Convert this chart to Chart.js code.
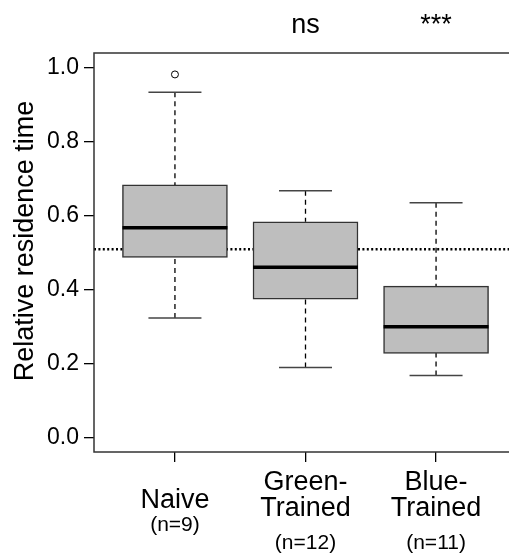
<!DOCTYPE html>
<html><head><meta charset="utf-8">
<script src="https://cdn.jsdelivr.net/npm/chart.js@4/dist/chart.umd.min.js"></script>
<style>
html,body{margin:0;padding:0;background:#fff;overflow:hidden}
#wrap{width:525px;height:557px}
</style></head>
<body>
<div id="wrap"><canvas id="c" width="525" height="557"></canvas></div>
<script>
// box stats
const groups = [1,2,3]
const nameLines = [['Naive'],['Green-','Trained'],['Blue-','Trained']]
const nLabels = ['(n=9)','(n=12)','(n=11)']
const sigLabels = ['','ns','***']
const lowerWhisker = [0.323,0.189,0.167]
const q1 = [0.487,0.374,0.227]
const median = [0.567,0.460,0.299]
const q3 = [0.683,0.583,0.409]
const upperWhisker = [0.934,0.667,0.635]
const outlierGroup = [1]
const outlierValue = [0.982]
const refLine = 0.509
const yTicks = [0,0.2,0.4,0.6,0.8,1.0]
const yTitle = 'Relative residence time'
const xMin = 0.38, xMax = 3.62
const yMin = -0.04, yMax = 1.04

const FONT = '"Liberation Sans", Arial, Helvetica, sans-serif'

const 箱 = groups.map((g,i)=>({x:g,y:[q1[i],q3[i]]}))
const 中位 = groups.map((g,i)=>({x:g,y:median[i]}))
const 须 = []
groups.forEach((g,i)=>{
  须.push({x:g,y:upperWhisker[i]},{x:g,y:q3[i]},{x:g,y:null})
  须.push({x:g,y:lowerWhisker[i]},{x:g,y:q1[i]},{x:g,y:null})
})
const 帽 = []
groups.forEach((g,i)=>{ 帽.push({x:g,y:upperWhisker[i]},{x:g,y:lowerWhisker[i]}) })
const 离群 = outlierGroup.map((g,i)=>({x:g,y:outlierValue[i]}))

const decor = {
  id:'decor',
  afterDraw(chart){
    const {ctx, chartArea:a, scales:{x}} = chart
    ctx.save()
    ctx.strokeStyle = '#333'
    ctx.lineWidth = 1.5
    ctx.strokeRect(a.left, a.top, a.right-a.left, a.bottom-a.top)
    ctx.fillStyle = '#000'
    ctx.textAlign = 'center'
    ctx.textBaseline = 'alphabetic'
    groups.forEach((g,i)=>{
      const px = x.getPixelForValue(g)
      const lines = nameLines[i]
      ctx.font = '27px ' + FONT
      if(lines.length===1){
        ctx.fillText(lines[0], px, a.bottom+56)
      }else{
        ctx.fillText(lines[0], px, a.bottom+38)
        ctx.fillText(lines[1], px, a.bottom+64)
      }
      ctx.font = '21px ' + FONT
      ctx.fillText(nLabels[i], px, a.bottom + (lines.length===1 ? 79 : 97))
      ctx.font = '27px ' + FONT
      if(sigLabels[i]) ctx.fillText(sigLabels[i], px, 33)
    })
    ctx.translate(33, 241)
    ctx.rotate(-Math.PI/2)
    ctx.font = '27px ' + FONT
    ctx.fillText(yTitle, 0, 0)
    ctx.restore()
  }
}

new Chart(document.getElementById('c'), {
  type:'bar',
  data:{datasets:[
    {type:'line', data:[{x:xMin,y:refLine},{x:xMax,y:refLine}], borderColor:'#000', borderWidth:2.5, borderDash:[2,2.4], pointRadius:0, order:10},
    {type:'bar', data:箱, backgroundColor:'#bebebe', borderColor:'#333', borderWidth:1.5, borderSkipped:false, barThickness:105, grouped:false, order:5},
    {type:'line', data:须, borderColor:'#000', borderWidth:1.3, borderDash:[5,4], pointRadius:0, spanGaps:false, order:4},
    {type:'scatter', data:帽, pointStyle:'line', pointRadius:26.5, borderColor:'#444', borderWidth:1.5, order:2},
    {type:'scatter', data:中位, pointStyle:'line', pointRadius:52.5, borderColor:'#000', borderWidth:3.5, order:1},
    {type:'scatter', data:离群, pointStyle:'circle', pointRadius:3.5, borderColor:'#000', borderWidth:1, backgroundColor:'rgba(0,0,0,0)', order:2}
  ]},
  options:{
    responsive:false, animation:false, events:[],
    layout:{autoPadding:false, padding:{top:53, right:8, left:0, bottom:0}},
    plugins:{legend:{display:false}, tooltip:{enabled:false}},
    scales:{
      x:{type:'linear', min:xMin, max:xMax, offset:false,
        afterBuildTicks:s=>{ s.ticks = groups.map(v=>({value:v})) },
        afterFit:s=>{ s.height = 105 },
        ticks:{display:false},
        grid:{display:true, offset:false, drawOnChartArea:false, drawTicks:true, tickLength:10, color:'#000', lineWidth:1.3},
        border:{display:false}},
      y:{type:'linear', min:yMin, max:yMax,
        afterBuildTicks:s=>{ s.ticks = yTicks.map(v=>({value:v})) },
        afterFit:s=>{ s.width = 94 },
        ticks:{color:'#000', padding:5, font:{family:FONT, size:23}, callback:v=>v.toFixed(1)},
        grid:{display:true, drawOnChartArea:false, drawTicks:true, tickLength:10, color:'#000', lineWidth:1.3},
        border:{display:false}}
    }
  },
  plugins:[decor]
})
</script>
</body></html>
